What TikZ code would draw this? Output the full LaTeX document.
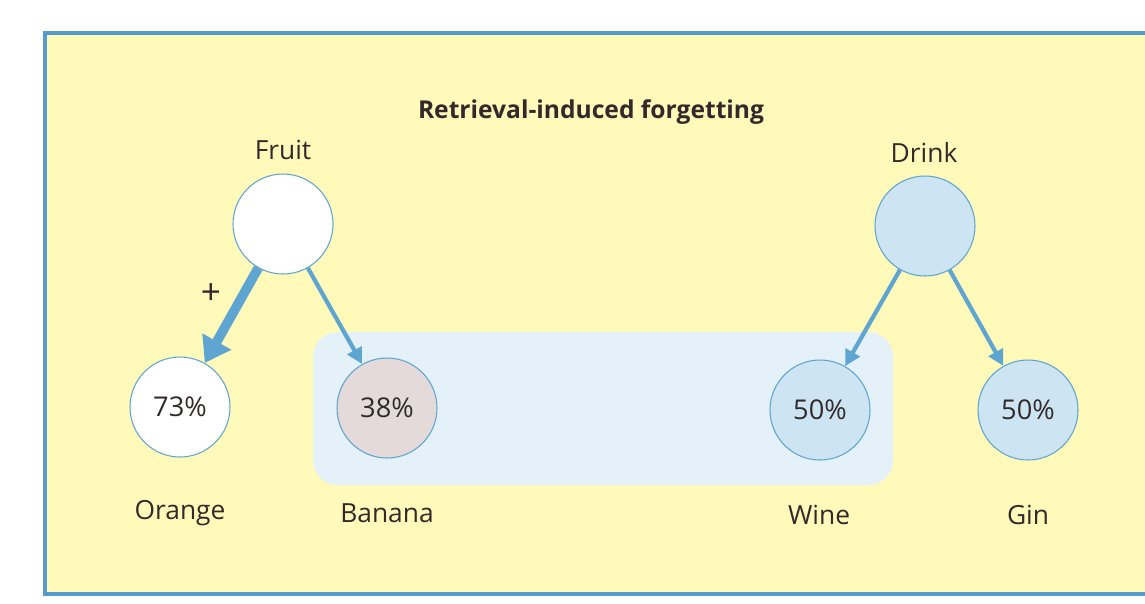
\documentclass[tikz,border=0pt]{standalone}
\usepackage{fontspec}
\setmainfont{Open Sans}
\usetikzlibrary{arrows.meta}

\definecolor{boxyellow}{RGB}{255,250,185}
\definecolor{framblue}{RGB}{85,155,205}
\definecolor{arrowblue}{RGB}{95,165,210}
\definecolor{paleblue}{RGB}{228,241,248}
\definecolor{drinkblue}{RGB}{205,228,242}
\definecolor{bananafill}{RGB}{228,218,218}
\definecolor{inktext}{RGB}{50,42,42}

\begin{document}
\begin{tikzpicture}[x=0.02cm, y=-0.02cm, font=\fontsize{15}{18}\selectfont, text=inktext,
    item/.style={circle, draw=arrowblue, semithick, minimum size=100*0.02cm, inner sep=0pt,
      font=\fontsize{15.5}{18}\selectfont},
    link/.style={draw=arrowblue, line width=2.4pt, -{Triangle[length=9pt, width=9pt]}},
    strong/.style={draw=arrowblue, line width=5.5pt, -{Triangle[length=14pt, width=18pt]}},
    word/.style={inner sep=1pt}]
  \useasboundingbox (0,0) rectangle (1145,603);

  % Fondo del recuadro
  \fill[white] (0,0) rectangle (1145,603);
  \fill[boxyellow] (45,33) rectangle (1160,594);
  \draw[framblue, line width=2pt] (1160,33) -- (45,33) -- (45,594) -- (1160,594);

  % Franja azul clara
  \fill[paleblue, rounded corners=14pt] (313,332) rectangle (893,485);

  % Titulo
  \node[word, font=\fontsize{14}{17}\selectfont\bfseries] (title) at (591,112) {Retrieval-induced forgetting};

  % Categoria izquierda
  \node[word] (fruitlab) at (283,150) {Fruit};
  \node[item, fill=white] (fruit) at (283,224) {};
  \node[item, fill=white] (orange) at (180,407) {73\%};
  \node[item, fill=bananafill] (banana) at (387,408) {38\%};
  \node[word] (orangelab) at (180,513) {Orange};
  \node[word] (bananalab) at (387,513) {Banana};

  % Categoria derecha
  \node[word] (drinklab) at (924,152) {Drink};
  \node[item, fill=drinkblue] (drink) at (925,226) {};
  \node[item, fill=drinkblue] (wine) at (820,410) {50\%};
  \node[item, fill=drinkblue] (gin) at (1028,410) {50\%};
  \node[word] (winelab) at (819,515) {Wine};
  \node[word] (ginlab) at (1028,515) {Gin};

  % Flechas
  \draw[strong] (fruit) -- (orange);
  \draw[link] (fruit) -- (banana);
  \draw[link] (drink) -- (wine);
  \draw[link] (drink) -- (gin);

  \node[word, font=\fontsize{20}{22}\selectfont] (plus) at (211,294) {+};
\end{tikzpicture}
\end{document}
